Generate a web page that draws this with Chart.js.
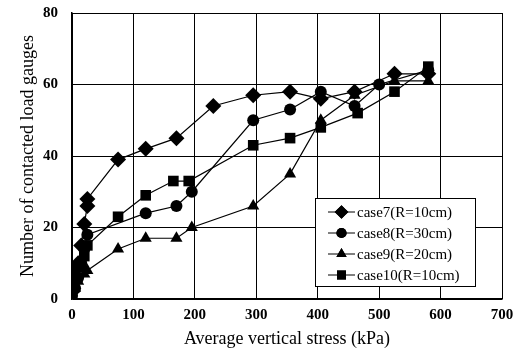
<!DOCTYPE html>
<html>
<head>
<meta charset="utf-8">
<script src="https://cdn.jsdelivr.net/npm/chart.js@4/dist/chart.umd.min.js"></script>
<style>
  html, body { margin: 0; padding: 0; background: #fff; }
  #wrap { width: 516px; height: 364px; position: relative; }
</style>
</head>
<body>
<div id="wrap"><canvas id="chart" width="516" height="364"></canvas></div>
<script>
// values (kPa, count)
const case7X = [0, 5, 10, 15, 20, 25, 25, 75, 120, 170, 230, 295, 355, 405, 460, 525, 580];
const case7Y = [2, 5, 10, 15, 21, 26, 28, 39, 42, 45, 54, 57, 58, 56, 58, 63, 63];

const case8X = [0, 5, 10, 15, 20, 25, 120, 170, 195, 295, 355, 405, 460, 500, 580];
const case8Y = [1, 3, 6, 10, 14, 18, 24, 26, 30, 50, 53, 58, 54, 60, 64];

const case9X = [0, 5, 10, 20, 25, 75, 120, 170, 195, 295, 355, 405, 460, 525, 580];
const case9Y = [1, 3, 5, 7, 8, 14, 17, 17, 20, 26, 35, 50, 57, 61, 61];

const case10X = [0, 5, 15, 20, 25, 75, 120, 165, 190, 295, 355, 405, 465, 525, 580];
const case10Y = [2, 8, 9, 12, 15, 23, 29, 33, 33, 43, 45, 48, 52, 58, 65];

const seriesLabels = ['case7(R=10cm)', 'case8(R=30cm)', 'case9(R=20cm)', 'case10(R=10cm)'];
const xTicks = [0, 100, 200, 300, 400, 500, 600, 700];
const yTicks = [0, 20, 40, 60, 80];

const serif = '"Liberation Serif", "Times New Roman", serif';

function pts(xs, ys) {
  return xs.map((x, i) => ({ x: x, y: ys[i] }));
}

function makeSet(label, data, style, radius) {
  return {
    label: label,
    data: data,
    borderColor: '#000',
    backgroundColor: '#000',
    borderWidth: 1.2,
    pointStyle: style,
    pointRadius: radius,
    pointBorderWidth: 0,
    pointBackgroundColor: '#000',
    showLine: true,
    tension: 0
  };
}

const datasets = [
  makeSet(seriesLabels[0], pts(case7X, case7Y), 'rectRot', 8),
  makeSet(seriesLabels[1], pts(case8X, case8Y), 'circle', 6),
  makeSet(seriesLabels[2], pts(case9X, case9Y), 'triangle', 7),
  makeSet(seriesLabels[3], pts(case10X, case10Y), 'rect', 7.5)
];

// boxed legend drawn inside the plot, lower right
const boxLegend = {
  id: 'boxLegend',
  afterDraw(chart) {
    const ctx = chart.ctx;
    const area = chart.chartArea;
    const left = area.right - 187, top = area.bottom - 101;
    const w = 160, h = 88;
    ctx.save();
    ctx.fillStyle = '#fff';
    ctx.fillRect(left, top, w, h);
    ctx.strokeStyle = '#000';
    ctx.lineWidth = 1;
    ctx.strokeRect(left + 0.5, top + 0.5, w, h);
    ctx.font = '15px ' + serif;
    ctx.textBaseline = 'middle';
    ctx.fillStyle = '#000';
    chart.data.datasets.forEach((ds, i) => {
      const cy = top + 14 + i * 21;
      ctx.beginPath();
      ctx.moveTo(left + 13, cy);
      ctx.lineTo(left + 40, cy);
      ctx.stroke();
      Chart.helpers.drawPoint(ctx, {
        pointStyle: ds.pointStyle,
        radius: ds.pointRadius * 0.85,
        borderWidth: 0
      }, left + 26.5, cy);
      ctx.fill();
      ctx.fillText(ds.label, left + 42, cy + 1);
    });
    ctx.restore();
  }
};

new Chart(document.getElementById('chart').getContext('2d'), {
  type: 'scatter',
  data: { datasets: datasets },
  options: {
    responsive: false,
    animation: false,
    layout: { padding: { left: 17, right: 14, top: 13, bottom: 14 } },
    plugins: {
      legend: { display: false },
      tooltip: { enabled: false }
    },
    scales: {
      x: {
        type: 'linear',
        min: 0,
        max: 700,
        afterBuildTicks: (s) => { s.ticks = xTicks.map(v => ({ value: v })); },
        afterFit: (s) => { s.height = 51; },
        ticks: {
          color: '#000',
          padding: 0,
          font: { family: serif, size: 15, weight: 'bold' }
        },
        grid: { color: '#000', lineWidth: 1, drawTicks: true, tickLength: 7, tickColor: 'rgba(0,0,0,0)' },
        border: { color: '#000', width: 1.5 },
        title: {
          display: true,
          text: 'Average vertical stress (kPa)',
          color: '#000',
          font: { family: serif, size: 18 },
          padding: { top: 4, bottom: 0 }
        }
      },
      y: {
        min: 0,
        max: 80,
        afterBuildTicks: (s) => { s.ticks = yTicks.map(v => ({ value: v })); },
        afterFit: (s) => { s.width = 55; },
        ticks: {
          color: '#000',
          padding: 0,
          font: { family: serif, size: 15, weight: 'bold' }
        },
        grid: { color: '#000', lineWidth: 1, drawTicks: true, tickLength: 14, tickColor: 'rgba(0,0,0,0)' },
        border: { color: '#000', width: 1.5 },
        title: {
          display: true,
          text: 'Number of contacted load gauges',
          color: '#000',
          font: { family: serif, size: 18 },
          padding: { top: 0, bottom: 0 }
        }
      }
    }
  },
  plugins: [boxLegend]
});
</script>
</body>
</html>
